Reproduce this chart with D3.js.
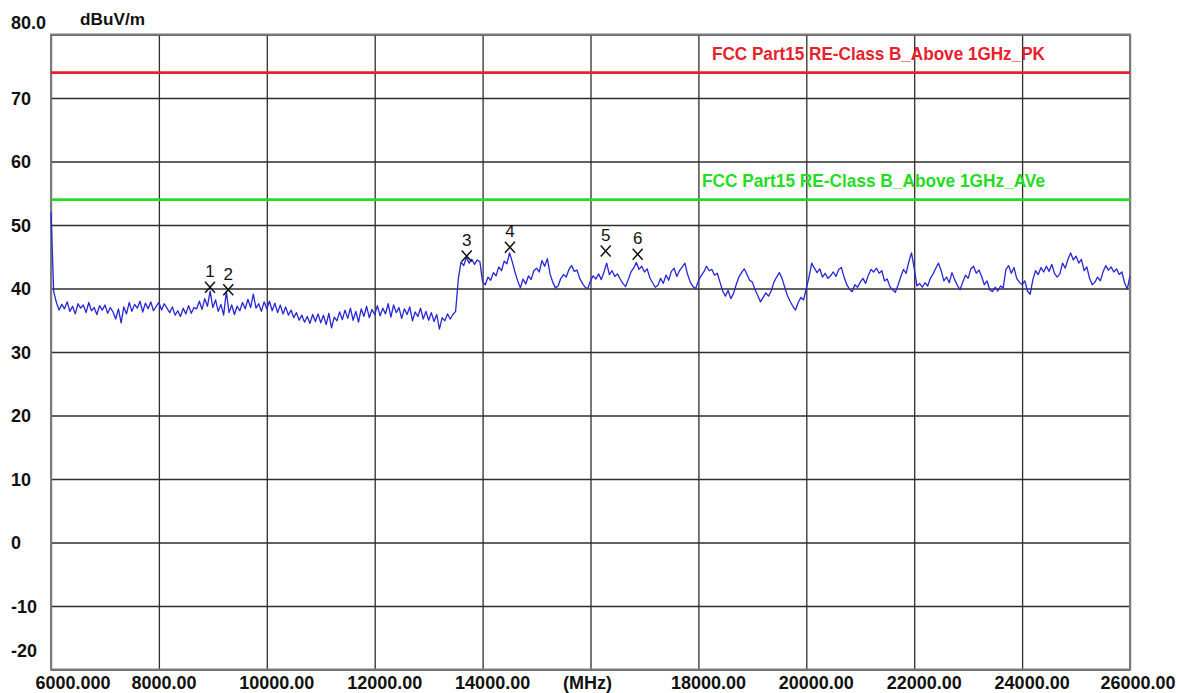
<!DOCTYPE html>
<html>
<head>
<meta charset="utf-8">
<script src="https://cdn.jsdelivr.net/npm/d3@7"></script>
<style>
  html, body { margin: 0; padding: 0; background: #ffffff; }
  svg { display: block; }
</style>
</head>
<body>
<svg id="chart" width="1180" height="693"></svg>
<script>
// ---------------- data ----------------
const xTickValues = [6000, 8000, 10000, 12000, 14000, 16000, 18000, 20000, 22000, 24000, 26000];
const xTickLabels = ["6000.000", "8000.00", "10000.00", "12000.00", "14000.00", "(MHz)", "18000.00", "20000.00", "22000.00", "24000.00", "26000.00"];
const yTickValues = [80, 70, 60, 50, 40, 30, 20, 10, 0, -10, -20];
const yTickLabels = ["80.0", "70", "60", "50", "40", "30", "20", "10", "0", "-10", "-20"];
const yUnit = "dBuV/m";

const limitNames = ["FCC Part15 RE-Class B_Above 1GHz_PK", "FCC Part15 RE-Class B_Above 1GHz_AVe"];
const limitLevels = [74, 54];

// sweep: start frequency and step (MHz); one level per step
const sweepStart = 6000;
const sweepStep = 50;
const traceLevels = [
  52.0, 39.5, 37.8, 36.6, 37.5, 36.8, 37.9, 36.4, 37.2, 36.0, 37.6, 36.9, 37.4, 36.2, 37.8, 36.5, 37.0, 35.9, 37.3, 36.6,
  37.4, 36.1, 37.0, 36.3, 35.2, 36.8, 34.6, 37.1, 36.0, 37.8, 36.4, 37.5, 36.9, 38.0, 36.3, 37.7, 36.8, 37.9, 36.5, 37.2,
  37.8, 36.6, 37.6, 36.9, 36.2, 37.1, 35.8, 36.5, 35.6, 36.9, 36.0, 37.3, 36.1, 37.0, 36.8, 38.0, 36.7, 38.4, 37.2, 39.6,
  37.0, 38.2, 36.4, 37.5, 35.8, 39.5, 36.2, 37.4, 35.9, 37.2, 36.5, 37.8, 36.8, 38.3, 37.0, 39.1, 36.9, 37.6, 36.4, 37.9,
  36.8, 38.0, 36.5, 37.7, 36.2, 37.4, 36.0, 37.1, 35.8, 36.6, 35.4, 36.2, 35.0, 35.8, 34.7, 35.6, 34.5, 35.9, 34.8, 36.0,
  34.6, 35.8, 34.3, 36.1, 33.8, 35.5, 34.9, 36.3, 35.1, 36.6, 35.3, 36.9, 35.0, 36.4, 34.7, 36.8, 35.6, 37.2, 35.4, 36.7,
  35.9, 37.3, 35.7, 36.9, 36.0, 37.6, 35.5, 37.4, 36.2, 37.0, 35.3, 36.8, 35.9, 37.1, 34.9, 36.3, 35.6, 36.9, 35.2, 36.4,
  35.0, 36.2, 34.8, 35.9, 33.6, 35.4, 34.9, 36.0, 35.2, 35.9, 36.4, 41.5, 44.2, 43.6, 44.9, 44.0, 44.6, 43.8, 44.5, 44.2,
  41.0, 40.6, 41.8, 41.3, 42.5, 42.0, 43.4, 42.8, 44.3, 43.9, 45.6, 44.2, 42.6, 41.2, 40.1, 41.5, 40.7, 42.0, 41.4, 42.8,
  43.2, 42.6, 44.4, 43.5, 44.7, 42.3, 41.0, 40.1, 40.4, 41.6, 42.2, 41.8, 43.0, 43.6, 42.7, 42.9, 41.6, 40.8, 40.2, 40.0,
  41.2, 42.0, 41.5, 42.3, 41.4, 42.6, 44.0, 42.2, 42.8, 41.9, 42.3, 41.5, 40.8, 40.3, 41.4, 42.6, 43.2, 44.1, 43.0, 43.5,
  42.6, 43.1, 41.7, 40.9, 40.2, 40.5, 41.6, 40.8, 42.1, 41.3, 42.7, 43.2, 41.9, 42.8, 43.4, 44.0, 42.2, 41.0, 40.3, 40.0,
  41.2, 42.0, 42.6, 43.5, 42.8, 43.0, 42.1, 42.4, 41.0, 39.6, 38.8, 39.7, 38.4, 39.2, 40.6, 41.8, 42.5, 43.1, 42.2, 41.3,
  41.0, 39.8, 38.9, 37.9, 38.6, 39.3, 38.8, 39.6, 41.0, 41.8, 42.5, 41.6, 40.2, 38.9, 38.0, 37.2, 36.6, 37.8, 38.6, 38.2,
  40.0, 41.8, 44.0, 43.2, 42.5, 43.1, 41.8, 42.4, 41.6, 42.0, 42.6, 41.9, 43.0, 43.3, 41.8, 40.6, 39.9, 39.5, 40.6, 40.2,
  41.0, 41.6, 40.8, 42.1, 43.0, 42.6, 43.2, 42.4, 42.8, 41.2, 41.5, 40.3, 39.8, 39.4, 40.5, 41.8, 43.0, 42.4, 44.2, 45.6,
  43.2, 40.4, 40.8, 40.2, 40.9, 40.4, 41.6, 42.3, 43.2, 44.0, 42.8, 41.2, 41.8, 40.9, 42.5, 41.4, 40.5, 39.8, 41.0, 42.1,
  41.6, 43.1, 43.5, 42.4, 42.9, 41.9, 40.6, 41.2, 39.8, 39.5, 40.2, 39.6, 40.4, 40.1, 43.0, 43.6, 42.4, 43.3, 41.6, 41.0,
  40.6, 41.2, 39.6, 39.1, 41.4, 42.8, 42.2, 43.3, 42.6, 43.5, 42.7, 43.8, 42.4, 41.8, 42.3, 44.0, 43.2, 44.6, 45.6, 44.5,
  45.1, 44.0, 44.6, 42.8, 43.4, 41.6, 40.6, 41.0, 41.8, 41.2, 42.6, 43.6, 42.9, 43.4, 42.6, 43.1, 42.2, 42.6, 40.9, 39.9,
  42.0
];

const markerIds = ["1", "2", "3", "4", "5", "6"];
const markerFreqs = [8947, 9286, 13705, 14507, 16281, 16874];
const markerLevels = [40.2, 39.8, 45.1, 46.5, 45.9, 45.4];

// ---------------- layout ----------------
const svg = d3.select("#chart");
const plot = { left: 51, right: 1130, top: 34.5, bottom: 669.5 };

const x = d3.scaleLinear().domain([6000, 26000]).range([plot.left, plot.right]);
const y = d3.scaleLinear().domain([-20, 80]).range([plot.bottom, plot.top]);

const font = "'Liberation Sans', Arial, sans-serif";

// plot background
svg.append("rect")
  .attr("x", plot.left).attr("y", plot.top)
  .attr("width", plot.right - plot.left).attr("height", plot.bottom - plot.top)
  .attr("fill", "#ffffff");

// vertical grid
const xGrid = svg.append("g")
  .attr("transform", `translate(0,${plot.bottom})`)
  .call(d3.axisBottom(x).tickValues(xTickValues).tickSize(-(plot.bottom - plot.top)).tickFormat(""));
xGrid.select(".domain").remove();
xGrid.selectAll(".tick line").attr("stroke", "#2e2e2e").attr("stroke-width", 1.3);

// horizontal grid
const yGrid = svg.append("g")
  .attr("transform", `translate(${plot.left},0)`)
  .call(d3.axisLeft(y).tickValues(yTickValues).tickSize(-(plot.right - plot.left)).tickFormat(""));
yGrid.select(".domain").remove();
yGrid.selectAll(".tick line").attr("stroke", "#2e2e2e").attr("stroke-width", 1.3);

// border
svg.append("rect")
  .attr("x", plot.left).attr("y", plot.top)
  .attr("width", plot.right - plot.left).attr("height", plot.bottom - plot.top)
  .attr("fill", "none").attr("stroke", "#7a7a7a").attr("stroke-width", 2);

// x axis labels
const lastIdx = xTickValues.length - 1;
const xAxis = svg.append("g")
  .attr("transform", `translate(0,${plot.bottom})`)
  .call(d3.axisBottom(x).tickValues(xTickValues).tickSize(0)
    .tickFormat((d, i) => xTickLabels[i]));
xAxis.select(".domain").remove();
xAxis.selectAll(".tick text")
  .attr("font-family", font).attr("font-size", 18).attr("font-weight", "bold")
  .attr("fill", "#111").attr("text-anchor", "start")
  .attr("x", (d, i) => i === 0 ? -16 : (i === lastIdx ? -30 : -28))
  .attr("y", 0).attr("dy", null)
  .attr("transform", "translate(0,19)");

// y axis labels
const yAxis = svg.append("g")
  .attr("transform", `translate(${plot.left},0)`)
  .call(d3.axisLeft(y).tickValues(yTickValues).tickSize(0)
    .tickFormat((d, i) => yTickLabels[i]));
yAxis.select(".domain").remove();
yAxis.selectAll(".tick text")
  .attr("font-family", font).attr("font-size", 18).attr("font-weight", "bold")
  .attr("fill", "#111").attr("text-anchor", "start")
  .attr("x", 11 - plot.left)
  .attr("dy", d => d === 80 ? "-0.32em" : (d === -20 ? "-0.75em" : "0.36em"));

// unit label
svg.append("text")
  .attr("x", 80).attr("y", 25)
  .attr("font-family", font).attr("font-size", 16).attr("font-weight", "bold")
  .attr("fill", "#111")
  .attr("textLength", 65).attr("lengthAdjust", "spacingAndGlyphs")
  .text(yUnit);

// limit lines
const limitColors = ["#e8202a", "#22dd22"];
const limitTextX = [712, 702];
const limitTextW = [333, 343];
limitLevels.forEach((lv, i) => {
  svg.append("line")
    .attr("x1", plot.left).attr("x2", plot.right)
    .attr("y1", y(lv)).attr("y2", y(lv))
    .attr("stroke", limitColors[i]).attr("stroke-width", 2.6);
  svg.append("text")
    .attr("x", limitTextX[i]).attr("y", y(lv) - 13)
    .attr("font-family", font).attr("font-size", 19).attr("font-weight", "bold")
    .attr("fill", limitColors[i])
    .attr("textLength", limitTextW[i]).attr("lengthAdjust", "spacingAndGlyphs")
    .text(limitNames[i]);
});

// trace
const trace = traceLevels.map((v, i) => [sweepStart + i * sweepStep, v]);
svg.append("path")
  .datum(trace)
  .attr("fill", "none")
  .attr("stroke", "#2626d6")
  .attr("stroke-width", 1.3)
  .attr("stroke-linejoin", "round")
  .attr("d", d3.line().x(d => x(d[0])).y(d => y(d[1])));

// markers
markerIds.forEach((id, i) => {
  const mx = x(markerFreqs[i]);
  const my = y(markerLevels[i]);
  const g = svg.append("g").attr("transform", `translate(${mx},${my})`);
  g.append("path")
    .attr("d", "M-5,-5.5L5,5.5M5,-5.5L-5,5.5")
    .attr("stroke", "#111").attr("stroke-width", 1.5).attr("fill", "none");
  g.append("text")
    .attr("x", 0).attr("y", -10)
    .attr("text-anchor", "middle")
    .attr("font-family", font).attr("font-size", 17)
    .attr("fill", "#111")
    .text(id);
});
</script>
</body>
</html>
